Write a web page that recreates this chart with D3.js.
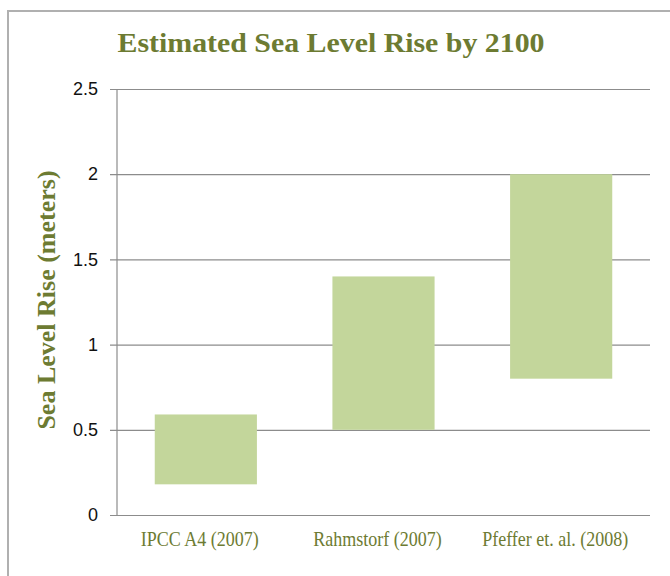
<!DOCTYPE html>
<html><head><meta charset="utf-8">
<script src="https://cdn.jsdelivr.net/npm/d3@7"></script>
<style>body{margin:0;background:#fff;} svg{display:block;}</style>
</head><body>
<svg id="chart" width="670" height="576"></svg>
<script>
const categories = ["IPCC A4 (2007)", "Rahmstorf (2007)", "Pfeffer et. al. (2008)"];
const lowValues = [0.18, 0.5, 0.8];
const highValues = [0.59, 1.4, 2.0];
const yTicks = [0, 0.5, 1, 1.5, 2, 2.5];
const yTickLabels = ["0", "0.5", "1", "1.5", "2", "2.5"];
const titleText = "Estimated Sea Level Rise by 2100";
const yAxisTitle = "Sea Level Rise (meters)";

const olive = "#6d7b32";
const svg = d3.select("#chart");
const m = {left: 117, right: 650, top: 89, bottom: 515};

// frame
svg.append("rect").attr("x", 8).attr("y", 11).attr("width", 700).attr("height", 600)
  .attr("fill", "none").attr("stroke", "#b0b0b0").attr("stroke-width", 2);

const x = d3.scaleBand().domain(categories).range([m.left, m.right]).paddingInner(0.425).paddingOuter(0.2125);
const y = d3.scaleLinear().domain([0, 2.5]).range([m.bottom, m.top]);

// gridlines + y axis
const yAxis = d3.axisLeft(y).tickValues(yTicks).tickSize(-(m.right - m.left))
  .tickFormat((d, i) => yTickLabels[i]).tickPadding(19);
const gy = svg.append("g").attr("transform", `translate(${m.left},0)`).call(yAxis);
gy.select(".domain").remove();
gy.selectAll(".tick line").attr("stroke", "#8c8c8c").attr("stroke-width", 1.2).attr("x1", -7);
gy.selectAll(".tick text").attr("font-family", "'Liberation Sans Narrow', 'Liberation Sans', Arial, sans-serif")
  .attr("font-size", 18).attr("fill", "#111");
svg.append("line").attr("x1", m.left).attr("x2", m.left).attr("y1", m.top).attr("y2", m.bottom)
  .attr("stroke", "#8c8c8c").attr("stroke-width", 1.2);

// bars
svg.append("g").selectAll("rect").data(categories).join("rect")
  .attr("x", d => x(d)).attr("width", x.bandwidth())
  .attr("y", (d, i) => y(highValues[i]))
  .attr("height", (d, i) => y(lowValues[i]) - y(highValues[i]))
  .attr("fill", "#c3d69b");

// x axis labels
const xAxis = d3.axisBottom(x).tickSize(0).tickPadding(17);
const gx = svg.append("g").attr("transform", `translate(-6,${m.bottom})`).call(xAxis);
gx.select(".domain").remove();
gx.selectAll(".tick text").attr("font-family", "'Liberation Serif', 'Times New Roman', serif")
  .attr("font-size", 20).attr("fill", olive).attr("transform", "scale(0.9,1)");

// title
svg.append("text").attr("x", 331).attr("y", 52).attr("text-anchor", "middle")
  .attr("font-family", "'Liberation Serif', 'Times New Roman', serif").attr("font-weight", "bold")
  .attr("font-size", 28).attr("textLength", 427).attr("lengthAdjust", "spacingAndGlyphs")
  .attr("fill", olive).text(titleText);

// y axis title
svg.append("text").attr("transform", "translate(55,300) rotate(-90)").attr("text-anchor", "middle")
  .attr("font-family", "'Liberation Serif', 'Times New Roman', serif").attr("font-weight", "bold")
  .attr("font-size", 26).attr("fill", olive).text(yAxisTitle);
</script>
</body></html>
